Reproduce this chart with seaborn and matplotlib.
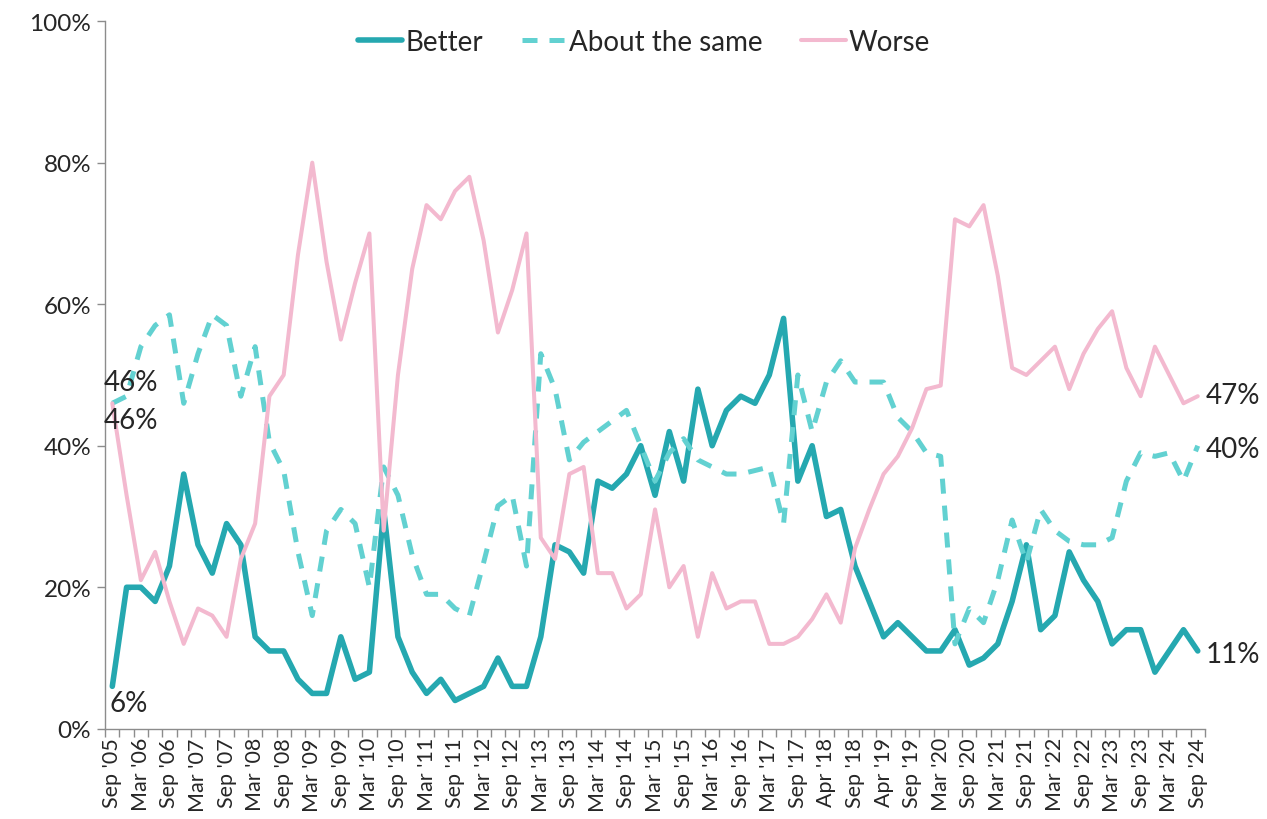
import pandas as pd
import seaborn as sns
import matplotlib.pyplot as plt

# quarterly survey, Sep '05 .. Sep '24 (labels every other quarter)
tick_labels = ["Sep '05", "Mar '06", "Sep '06", "Mar '07", "Sep '07", "Mar '08", "Sep '08",
               "Mar '09", "Sep '09", "Mar '10", "Sep '10", "Mar '11", "Sep '11", "Mar '12",
               "Sep '12", "Mar '13", "Sep '13", "Mar '14", "Sep '14", "Mar '15", "Sep '15",
               "Mar '16", "Sep '16", "Mar '17", "Sep '17", "Apr '18", "Sep '18", "Apr '19",
               "Sep '19", "Mar '20", "Sep '20", "Mar '21", "Sep '21", "Mar '22", "Sep '22",
               "Mar '23", "Sep '23", "Mar '24", "Sep '24"]

better = [6, 20, 20, 18, 23, 36, 26, 22, 29, 26, 13, 11, 11, 7, 5, 5, 13, 7, 8, 31,
          13, 8, 5, 7, 4, 5, 6, 10, 6, 6, 13, 26, 25, 22, 35, 34, 36, 40, 33, 42,
          35, 48, 40, 45, 47, 46, 50, 58, 35, 40, 30, 31, 23, 18, 13, 15, 13, 11, 11, 14,
          9, 10, 12, 18, 26, 14, 16, 25, 21, 18, 12, 14, 14, 8, 11, 14, 11]

about_same = [46, 47, 54, 57, 58.5, 46, 53, 58.5, 57, 47, 54, 40.5, 36.5, 25, 16, 28, 31, 29, 20, 37,
              33, 24.5, 19, 19, 17, 16, 23.5, 31.5, 33, 23, 53, 48, 38, 40.5, 42, 43.5, 45, 40, 35, 39,
              41, 38, 37, 36, 36, 36.5, 37, 29, 50, 42, 49, 52, 49, 49, 49, 44, 42, 39, 38.5, 12,
              17, 15, 21, 29.5, 23.5, 31, 28, 26.5, 26, 26, 27, 35, 39, 38.5, 39, 35, 40]

worse = [46, 33, 21, 25, 18, 12, 17, 16, 13, 24, 29, 47, 50, 67, 80, 66, 55, 63, 70, 28,
         50, 65, 74, 72, 76, 78, 69, 56, 62, 70, 27, 24, 36, 37, 22, 22, 17, 19, 31, 20,
         23, 13, 22, 17, 18, 18, 12, 12, 13, 15.5, 19, 15, 25.5, 31, 36, 38.5, 42.5, 48, 48.5, 72,
         71, 74, 64, 51, 50, 52, 54, 48, 53, 56.5, 59, 51, 47, 54, 50, 46, 47]

df = pd.DataFrame({"Better": better, "About the same": about_same, "Worse": worse})
df["quarter"] = range(len(df))

sns.set_theme(style="white")
plt.rcParams["font.family"] = ["Lato", "DejaVu Sans"]

fig = plt.figure(figsize=(12.67, 8.2), dpi=100)
ax = fig.add_axes([0.083, 0.11, 0.868, 0.863])

styles = {
    "Better": ("#25A8B0", 4.0, "-"),
    "About the same": ("#62D1D1", 3.6, (0, (3.0, 2.4))),
    "Worse": ("#F3B9CF", 2.9, "-"),
}
for name, (col, lw, ls) in styles.items():
    sns.lineplot(data=df, x="quarter", y=name, ax=ax, color=col, linewidth=lw,
                 linestyle=ls, label=name, solid_capstyle="round", dash_capstyle="butt",
                 solid_joinstyle="round")

n = len(df)
ax.set_xlim(-0.5, n - 0.5)
ax.set_ylim(0, 100)
ax.set_xlabel("")
ax.set_ylabel("")

# category labels every other quarter, tick marks between categories
ax.set_xticks(range(0, n, 2))
ax.set_xticklabels(tick_labels, rotation=90, fontsize=15.5)
ax.set_xticks([i - 0.5 for i in range(n + 1)], minor=True)
ax.tick_params(axis="x", which="major", length=0, pad=6)
ax.tick_params(axis="x", which="minor", length=6, width=1, color="#8C8C8C", bottom=True)

ax.set_yticks(range(0, 101, 20))
ax.set_yticklabels([f"{v}%" for v in range(0, 101, 20)], fontsize=17.5)
ax.tick_params(axis="y", length=6, width=1, color="#8C8C8C", left=True, pad=4)

for s in ["top", "right"]:
    ax.spines[s].set_visible(False)
for s in ["left", "bottom"]:
    ax.spines[s].set_color("#8C8C8C")
    ax.spines[s].set_linewidth(1)

# start / end value labels
last = n - 1
lab = dict(textcoords="offset points", fontsize=20, va="center", ha="left")
ax.annotate(f"{about_same[0]:.0f}%", (0, about_same[0]), xytext=(-6, 15), **lab)
ax.annotate(f"{worse[0]:.0f}%", (0, worse[0]), xytext=(-6, -12), **lab)
ax.annotate(f"{better[0]:.0f}%", (0, better[0]), xytext=(-2, -12), **lab)
ax.annotate(f"{worse[last]:.0f}%", (last, worse[last]), xytext=(6, 1), **lab)
ax.annotate(f"{about_same[last]:.0f}%", (last, about_same[last]), xytext=(6, -2), **lab)
ax.annotate(f"{better[last]:.0f}%", (last, better[last]), xytext=(6, -2), **lab)

ax.legend(loc="center", bbox_to_anchor=(0.49, 0.971), ncol=3, frameon=False,
          fontsize=20, handlelength=1.6, handletextpad=0.1, columnspacing=1.4)

fig.savefig("out.png", dpi=100)
